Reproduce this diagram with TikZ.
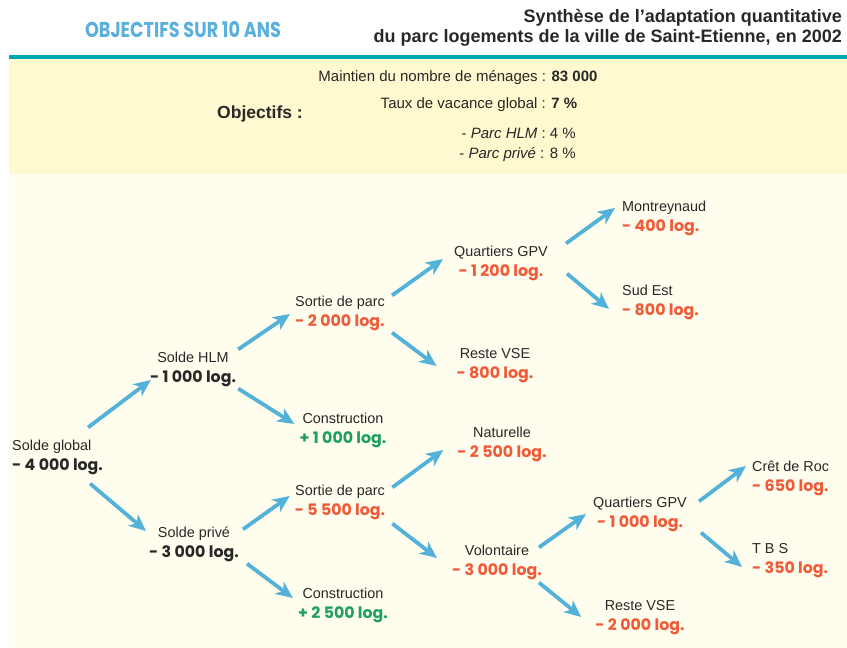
\documentclass[tikz,border=0pt]{standalone}
\usepackage{fontspec}
\setmainfont{Liberation Sans}
\newfontfamily\numfont{Poppins}
\newfontfamily\headfont{Poppins}[FakeStretch=0.82]
\usepackage{xcolor}
\usepackage{tikz}
\usetikzlibrary{arrows.meta}
\definecolor{arrowblue}{RGB}{84,177,216}
\definecolor{teal}{RGB}{0,168,176}
\definecolor{boxyellow}{RGB}{255,249,207}
\definecolor{cream}{RGB}{255,253,238}
\definecolor{valred}{RGB}{240,90,55}
\definecolor{valgreen}{RGB}{30,160,95}
\definecolor{headblue}{RGB}{90,175,220}
\definecolor{txtgray}{RGB}{40,40,40}
\newcommand{\valneg}[1]{{\color{valred}\numfont\bfseries\fontsize{15.8}{20}\selectfont #1}}
\newcommand{\valpos}[1]{{\color{valgreen}\numfont\bfseries\fontsize{15.8}{20}\selectfont #1}}
\newcommand{\valbk}[1]{{\color{txtgray}\numfont\bfseries\fontsize{15.8}{20}\selectfont #1}}
\tikzset{
    lbl/.style={align=center, inner sep=2pt, text=txtgray, font=\fontsize{14.4}{20}\selectfont},
    leaf/.style={lbl, align=left, anchor=west},
    objline/.style={inner sep=1pt, text=txtgray, font=\fontsize{15}{18}\selectfont},
    arrow/.style={-{Stealth[length=17pt,width=15pt,inset=5pt]}, line width=3.8pt, draw=arrowblue}
}
\begin{document}
\begin{tikzpicture}[x=1pt,y=-1pt]
\fill[white] (0,0) rectangle (847,648);
\useasboundingbox (0,0) rectangle (847,648);
\fill[cream] (9,174) rectangle (847,648);
\fill[boxyellow] (9,59) rectangle (847,174);
\fill[teal] (9,55) rectangle (847,59);

\node[text=headblue, font=\headfont\bfseries\fontsize{21.5}{24}\selectfont] (head) at (183,30) {OBJECTIFS SUR 10 ANS};
\node[anchor=east, align=right, inner sep=0pt, text=txtgray, font=\bfseries\fontsize{18}{20}\selectfont] (title) at (842,28) {Synthèse de l’adaptation quantitative\\du parc logements de la ville de Saint-Etienne, en 2002};

\node[text=txtgray, font=\bfseries\fontsize{17.5}{20}\selectfont] (obj) at (260,114) {Objectifs :};
\node[objline] (menages) at (458,78) {Maintien du nombre de ménages : \textbf{83 000}};
\node[objline] (vacance) at (479,105) {Taux de vacance global : \textbf{7 \%}};
\node[objline, anchor=east] (hlmrate) at (577,133) {- \textit{Parc HLM} : 4 \%};
\node[objline, anchor=east] (priverate) at (577,155) {- \textit{Parc privé} : 8 \%};

\node[lbl, align=left, anchor=west] (global) at (10,457) {Solde global\\\valbk{- 4 000 log.}};
\node[lbl] (hlm) at (193,369) {Solde HLM\\\valbk{- 1 000 log.}};
\node[lbl] (prive) at (194,544) {Solde privé\\\valbk{- 3 000 log.}};
\node[lbl] (sortie1) at (340,313) {Sortie de parc\\\valneg{- 2 000 log.}};
\node[lbl] (constr1) at (343,430) {Construction\\\valpos{+ 1 000 log.}};
\node[lbl] (sortie2) at (340,502) {Sortie de parc\\\valneg{- 5 500 log.}};
\node[lbl] (constr2) at (343,605) {Construction\\\valpos{+ 2 500 log.}};
\node[lbl] (gpv1) at (501,263) {Quartiers GPV\\\valneg{- 1 200 log.}};
\node[lbl] (reste1) at (495,366) {Reste VSE\\\valneg{- 800 log.}};
\node[lbl] (natur) at (502,444) {Naturelle\\\valneg{- 2 500 log.}};
\node[lbl] (volont) at (497,562) {Volontaire\\\valneg{- 3 000 log.}};
\node[leaf] (mont) at (620,218) {Montreynaud\\\valneg{- 400 log.}};
\node[leaf] (sud) at (620,302) {Sud Est\\\valneg{- 800 log.}};
\node[lbl] (gpv2) at (640,514) {Quartiers GPV\\\valneg{- 1 000 log.}};
\node[lbl] (reste2) at (640,618) {Reste VSE\\\valneg{- 2 000 log.}};
\node[leaf] (cret) at (750,478) {Crêt de Roc\\\valneg{- 650 log.}};
\node[leaf] (tbs) at (750,561) {T B S\\\valneg{- 350 log.}};

\draw[arrow] ([shift={(-17,-10)}]global.north east) -- ([shift={(3,11)}]hlm.west);
\draw[arrow] ([shift={(-15,7)}]global.south east) -- ([shift={(-1,-13)}]prive.west);
\draw[arrow] (hlm.north east) -- ([shift={(-3,1)}]sortie1.west);
\draw[arrow] (hlm.south east) -- ([shift={(-3,-6)}]constr1.west);
\draw[arrow] ([shift={(2,5)}]prive.north east) -- ([shift={(-3,-6)}]sortie2.west);
\draw[arrow] ([shift={(6,0)}]prive.south east) -- ([shift={(-3,-7)}]constr2.west);
\draw[arrow] ([shift={(5,2)}]sortie1.north east) -- ([shift={(-9,-4)}]gpv1.west);
\draw[arrow] ([shift={(5,0)}]sortie1.south east) -- ([shift={(-18,0)}]reste1.west);
\draw[arrow] ([shift={(5,5)}]sortie2.north east) -- ([shift={(-12,6)}]natur.west);
\draw[arrow] ([shift={(5,2)}]sortie2.south east) -- ([shift={(-13,-4)}]volont.west);
\draw[arrow] ([shift={(16,0)}]gpv1.north east) -- ([shift={(-5,-10)}]mont.west);
\draw[arrow] ([shift={(17,-9)}]gpv1.south east) -- ([shift={(-11,7)}]sud.west);
\draw[arrow] ([shift={(-5,5)}]volont.north east) -- ([shift={(-5,0)}]gpv2.west);
\draw[arrow] ([shift={(-5,1)}]volont.south east) -- ([shift={(-12,-1)}]reste2.west);
\draw[arrow] ([shift={(10,7)}]gpv2.north east) -- ([shift={(-4,-12)}]cret.west);
\draw[arrow] ([shift={(12,-1)}]gpv2.south east) -- ([shift={(-8,6)}]tbs.west);
\end{tikzpicture}
\end{document}
